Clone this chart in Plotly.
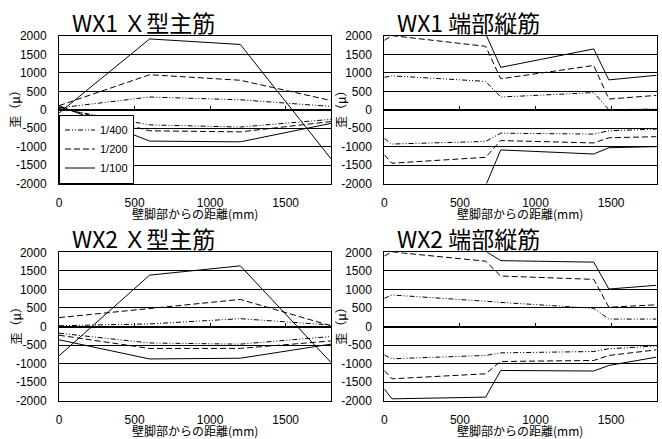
import plotly.graph_objects as go

# ---------------- data ----------------
x_main = [0, 600, 1200, 1800]                      # X型主筋 gauge positions (mm)
x_end = [0, 50, 670, 770, 1385, 1485, 1800]        # 端部縦筋 gauge positions (mm)

drifts = ["1/400", "1/200", "1/100"]

# WX1 X型主筋
wx1_x_400_pos = [50, 345, 270, 90]
wx1_x_400_neg = [30, -410, -470, -260]
wx1_x_200_pos = [110, 950, 800, 250]
wx1_x_200_neg = [70, -570, -600, -320]
wx1_x_100_pos = [-90, 1920, 1770, -1330]
wx1_x_100_neg = [110, -850, -870, -370]

# WX1 端部縦筋
wx1_e_400_pos = [880, 920, 770, 345, 465, 0, 20]
wx1_e_400_neg = [-780, -930, -860, -635, -660, -570, -525]
wx1_e_200_pos = [1880, 2010, 1720, 840, 1200, 290, 390]
wx1_e_200_neg = [-1220, -1450, -1290, -835, -900, -760, -730]
wx1_e_100_pos = [2600, 2700, 2060, 1150, 1650, 810, 935]
wx1_e_100_neg = [-2600, -2700, -2060, -1090, -1200, -1030, -1000]

# WX2 X型主筋
wx2_x_400_pos = [20, 70, 210, 40]
wx2_x_400_neg = [-180, -445, -475, -270]
wx2_x_200_pos = [240, 490, 730, 20]
wx2_x_200_neg = [-235, -592, -590, -390]
wx2_x_100_pos = [-790, 1385, 1635, -970]
wx2_x_100_neg = [-358, -875, -855, -475]

# WX2 端部縦筋
wx2_e_400_pos = [760, 850, 680, 650, 490, 200, 200]
wx2_e_400_neg = [-770, -870, -780, -710, -675, -600, -525]
wx2_e_200_pos = [1900, 2010, 1760, 1360, 1270, 520, 585]
wx2_e_200_neg = [-1185, -1410, -1275, -943, -916, -781, -629]
wx2_e_100_pos = [2600, 2700, 2030, 1775, 1735, 1010, 1110]
wx2_e_100_neg = [-1680, -1950, -1904, -1185, -1200, -1050, -826]

titles = ["WX1 Ｘ型主筋", "WX1 端部縦筋", "WX2 Ｘ型主筋", "WX2 端部縦筋"]
x_title = "壁脚部からの距離(mm)"
y_title = "歪（μ）"

y_ticks = [2000, 1500, 1000, 500, 0, -500, -1000, -1500, -2000]
y_ticktext = ["2000", "1500", "1000", "500", "0", "-500", "-1000", "-1500", "-2000"]
x_ticks = [0, 500, 1000, 1500]
x_ticktext = ["0", "500", "1000", "1500"]

panels = [
    (x_main, {"1/400": (wx1_x_400_pos, wx1_x_400_neg),
              "1/200": (wx1_x_200_pos, wx1_x_200_neg),
              "1/100": (wx1_x_100_pos, wx1_x_100_neg)}),
    (x_end, {"1/400": (wx1_e_400_pos, wx1_e_400_neg),
             "1/200": (wx1_e_200_pos, wx1_e_200_neg),
             "1/100": (wx1_e_100_pos, wx1_e_100_neg)}),
    (x_main, {"1/400": (wx2_x_400_pos, wx2_x_400_neg),
              "1/200": (wx2_x_200_pos, wx2_x_200_neg),
              "1/100": (wx2_x_100_pos, wx2_x_100_neg)}),
    (x_end, {"1/400": (wx2_e_400_pos, wx2_e_400_neg),
             "1/200": (wx2_e_200_pos, wx2_e_200_neg),
             "1/100": (wx2_e_100_pos, wx2_e_100_neg)}),
]

# ---------------- style ----------------
FONT_NUM = "Liberation Sans, Arial, sans-serif"
FONT_JP = "Noto Sans CJK JP, sans-serif"
DASH = {"1/400": "5px,2px,1px,2px,1px,2px", "1/200": "6px,3px", "1/100": "solid"}

W, H = 662, 439
XD = [[59 / W, 331 / W], [384.3 / W, 656.5 / W]]
YD = [[1 - 183.5 / H, 1 - 36 / H], [1 - 400.7 / H, 1 - 252.3 / H]]
pos = [(0, 0), (1, 0), (0, 1), (1, 1)]

fig = go.Figure()
layout = dict(
    template="none",
    width=W, height=H,
    margin=dict(l=0, r=0, t=0, b=0, autoexpand=False),
    paper_bgcolor="white", plot_bgcolor="white",
    showlegend=True,
    legend=dict(x=XD[0][0], y=YD[0][0], xanchor="left", yanchor="bottom",
                bgcolor="white", bordercolor="black", borderwidth=1,
                font=dict(family=FONT_NUM, size=11, color="black"),
                tracegroupgap=0, itemwidth=30),
    annotations=[],
)

for i, (xs, series) in enumerate(panels):
    n = i + 1
    c, r = pos[i]
    xa = "x" if n == 1 else f"x{n}"
    ya = "y" if n == 1 else f"y{n}"
    for d in drifts:
        p, q = series[d]
        for k, ys in enumerate((p, q)):
            fig.add_trace(go.Scatter(
                x=xs, y=ys, mode="lines", name=d, legendgroup=d,
                showlegend=(n == 1 and k == 0),
                line=dict(color="black", width=1, dash=DASH[d]),
                xaxis=xa, yaxis=ya, hoverinfo="skip"))
    # dummy trace for zero-line tick axis
    ov = f"x{n + 4}"
    fig.add_trace(go.Scatter(x=[None], y=[None], xaxis=ov, yaxis=ya,
                             showlegend=False, hoverinfo="skip"))
    layout[f"xaxis{n}"] = dict(
        domain=XD[c], anchor=ya, range=[0, 1800], tickvals=x_ticks, ticktext=x_ticktext,
        showgrid=False, zeroline=False, showline=True, mirror=True, linecolor="black",
        linewidth=1, ticks="", ticklabelstandoff=8, automargin=False,
        tickfont=dict(family=FONT_NUM, size=12, color="black"))
    layout[f"yaxis{n}"] = dict(
        domain=YD[r], anchor=xa, range=[-2000, 2000], tickvals=y_ticks, ticktext=y_ticktext,
        showgrid=True, gridcolor="black", gridwidth=1, zeroline=False,
        showline=True, mirror=True, linecolor="black", linewidth=1, ticks="",
        ticklabelstandoff=9, automargin=False,
        tickfont=dict(family=FONT_NUM, size=12, color="black"))
    layout[f"xaxis{n + 4}"] = dict(
        overlaying=xa, anchor="free", position=(YD[r][0] + YD[r][1]) / 2,
        range=[0, 1800], tickvals=[500, 1000, 1500], showticklabels=False,
        ticks="inside", ticklen=4, tickcolor="black", tickwidth=1, automargin=False,
        showline=True, linecolor="black", linewidth=1, showgrid=False, zeroline=False)
    xc = (XD[c][0] + XD[c][1]) / 2
    # chart title
    layout["annotations"].append(dict(
        text=titles[i], x=(XD[c][0] * W + 84) / W, y=YD[r][1] + 14 / H,
        xref="paper", yref="paper", xanchor="center", yanchor="middle", showarrow=False,
        font=dict(family=FONT_JP, size=23, color="black")))
    # x-axis title
    layout["annotations"].append(dict(
        text=x_title, x=xc, y=YD[r][0] - 30 / H, xref="paper", yref="paper",
        xanchor="center", yanchor="middle", showarrow=False,
        font=dict(family=FONT_JP, size=12, color="black")))
    # y-axis title
    layout["annotations"].append(dict(
        text=y_title, x=(XD[c][0] * W - 44) / W, y=(YD[r][0] + YD[r][1]) / 2 + 4 / H,
        xref="paper", yref="paper", xanchor="center", yanchor="middle", showarrow=False,
        textangle=-90, font=dict(family=FONT_JP, size=12, color="black")))

fig.update_layout(**layout)
fig.write_html("out.html", config={"displayModeBar": False},
               post_script="document.body.style.margin='0';")
